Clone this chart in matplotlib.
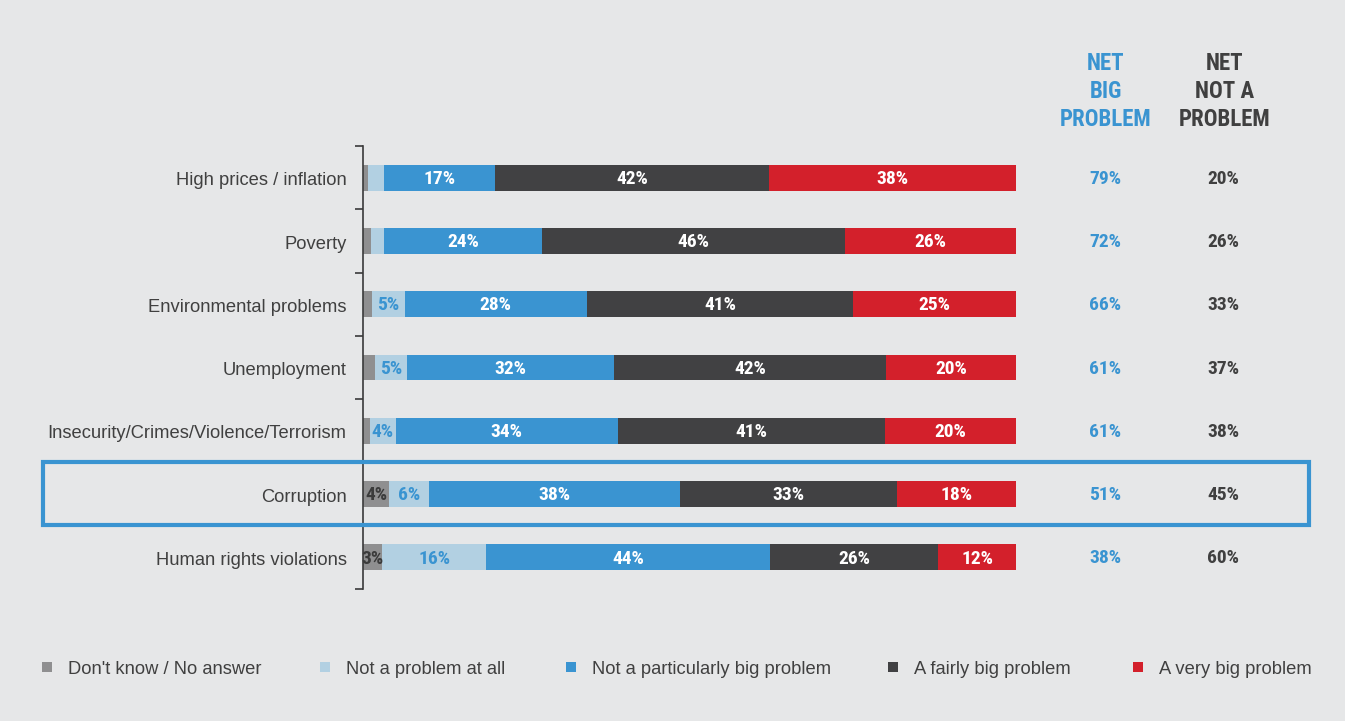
import matplotlib
matplotlib.use("Agg")
import matplotlib.pyplot as plt
import matplotlib.patches as mpatches
from matplotlib import font_manager as fm
import numpy as np

categories = ["High prices / inflation", "Poverty", "Environmental problems", "Unemployment",
              "Insecurity/Crimes/Violence/Terrorism", "Corruption", "Human rights violations"]
series_names = ["Don't know / No answer", "Not a problem at all", "Not a particularly big problem",
                "A fairly big problem", "A very big problem"]
dont_know = [0.8, 1.2, 1.4, 1.8, 1.0, 4, 3]
not_at_all = [2.5, 2, 5, 5, 4, 6, 16]
not_particularly = [17, 24, 28, 32, 34, 38, 44]
fairly_big = [42, 46, 41, 42, 41, 33, 26]
very_big = [38, 26, 25, 20, 20, 18, 12]
net_big = [79, 72, 66, 61, 61, 51, 38]
net_not = [20, 26, 33, 37, 38, 45, 60]

colors = ["#8f8f90", "#b2d0e2", "#3a94d1", "#414143", "#d3202b"]
text_colors = ["#3b3b3b", "#3a94d1", "white", "white", "white"]
BG = "#e6e7e8"
TXT = "#404040"
BLUE = "#3a94d1"

# pick a condensed bold font if one is installed
cond_font = {"family": ["Roboto", "DejaVu Sans"], "fontstretch": "normal"}
names = {(f.name, f.stretch) for f in fm.fontManager.ttflist}
fam_names = {f.name for f in fm.fontManager.ttflist}
for cand in ["Liberation Sans Narrow", "Roboto Condensed", "Open Sans Condensed",
             "DejaVu Sans Condensed", "Noto Sans Condensed"]:
    if cand in fam_names:
        cond_font = {"family": [cand, "DejaVu Sans"], "fontstretch": "normal"}
        break
else:
    for (n, st) in names:
        if n == "DejaVu Sans" and st in ("condensed", "semi-condensed", 600, 700, 500):
            cond_font = {"family": ["DejaVu Sans"], "fontstretch": "condensed"}
            break
REG = ["Liberation Sans", "DejaVu Sans"]

W, H = 1345, 721
fig = plt.figure(figsize=(W / 100, H / 100), dpi=100, facecolor=BG)

def fx(x): return x / W
def fy(y): return 1 - y / H

ax = fig.add_axes([fx(363), fy(589), fx(1016) - fx(363), (589 - 146) / H])
ax.set_facecolor(BG)

data = np.array([dont_know, not_at_all, not_particularly, fairly_big, very_big], dtype=float)
data = data / data.sum(axis=0) * 100
labels_int = [dont_know, not_at_all, not_particularly, fairly_big, very_big]
y = np.arange(len(categories))
left = np.zeros(len(categories))
for i in range(5):
    ax.barh(y, data[i], left=left, height=0.41, color=colors[i], edgecolor="none", label=series_names[i])
    for j in range(len(categories)):
        v = labels_int[i][j]
        if v >= 3:
            ax.text(left[j] + data[i][j] / 2, y[j] + 0.02, f"{round(v)}%", ha="center", va="center",
                    color=text_colors[i], fontsize=14, fontweight="bold", **cond_font)
    left += data[i]

ax.set_xlim(0, 100)
ax.set_ylim(6.5, -0.5)
ax.set_xticks([])
ax.set_yticks(np.arange(-0.5, 7, 1))
ax.set_yticklabels([])
ax.tick_params(axis="y", direction="out", length=6, width=1.2, color="#3a3a3a")
for s in ["top", "right", "bottom"]:
    ax.spines[s].set_visible(False)
ax.spines["left"].set_color("#3a3a3a")
ax.spines["left"].set_linewidth(1.2)

for j, c in enumerate(categories):
    ax.text(-2.5, y[j] + 0.05, c, ha="right", va="center", fontsize=13.2, color=TXT, family=REG)
    ycen = 179 + j * 63.2
    fig.text(fx(1105), fy(ycen), f"{net_big[j]}%", ha="center", va="center", color=BLUE,
             fontsize=14, fontweight="bold", **cond_font)
    fig.text(fx(1223), fy(ycen), f"{net_not[j]}%", ha="center", va="center", color=TXT,
             fontsize=14, fontweight="bold", **cond_font)

for k, (b, n) in enumerate(zip(["NET", "BIG", "PROBLEM"], ["NET", "NOT A", "PROBLEM"])):
    yy = 63 + k * 28
    fig.text(fx(1106), fy(yy), b, ha="center", va="center", color=BLUE, fontsize=16.5,
             fontweight="bold", **cond_font)
    fig.text(fx(1225), fy(yy), n, ha="center", va="center", color=TXT, fontsize=16.5,
             fontweight="bold", **cond_font)

rect = mpatches.Rectangle((fx(43), fy(525)), fx(1309) - fx(43), (525 - 462) / H,
                          transform=fig.transFigure, fill=False, edgecolor=BLUE, linewidth=3)
fig.add_artist(rect)

leg_x = [47, 325, 571, 893, 1138]
for i, name in enumerate(series_names):
    sq = mpatches.Rectangle((fx(leg_x[i] - 5), fy(672)), 10 / W, 10 / H, transform=fig.transFigure,
                            facecolor=colors[i], edgecolor="none")
    fig.add_artist(sq)
    fig.text(fx(leg_x[i] + 21), fy(669), name, ha="left", va="center", fontsize=13.2, color=TXT,
             family=REG)

fig.savefig("out.png", dpi=100, facecolor=BG)
